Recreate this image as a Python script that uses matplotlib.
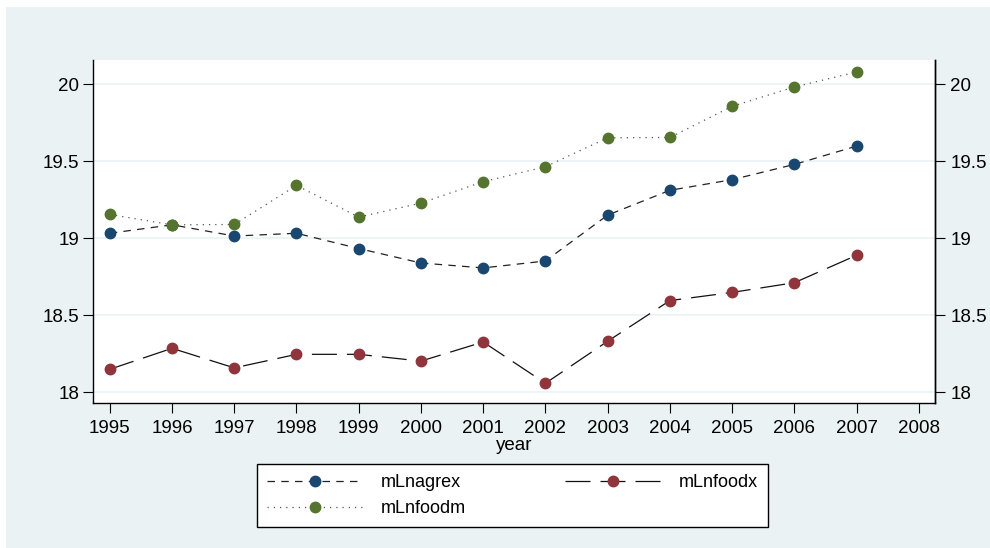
import matplotlib
matplotlib.use("Agg")
import matplotlib.pyplot as plt
import matplotlib.patches as mpatches

plt.rcParams['font.family'] = ['Liberation Sans', 'DejaVu Sans']

# data
years = [1995, 1996, 1997, 1998, 1999, 2000, 2001, 2002, 2003, 2004, 2005, 2006, 2007]
mLnagrex = [19.031, 19.086, 19.013, 19.031, 18.932, 18.838, 18.806, 18.851, 19.149,
            19.310, 19.379, 19.478, 19.597]
mLnfoodx = [18.148, 18.284, 18.157, 18.245, 18.245, 18.201, 18.325, 18.057, 18.330,
            18.594, 18.647, 18.710, 18.888]
mLnfoodm = [19.153, 19.086, 19.088, 19.342, 19.136, 19.227, 19.366, 19.463, 19.651,
            19.653, 19.855, 19.981, 20.078]
x_ticks = list(range(1995, 2009))
y_ticks = [18, 18.5, 19, 19.5, 20]
y_labels = ["18", "18.5", "19", "19.5", "20"]

bg = "#eaf2f3"
c_blue = "#1a476f"
c_red = "#90353b"
c_green = "#55752f"

fig = plt.figure(figsize=(9.9, 5.48), dpi=100)
fig.patch.set_facecolor("white")
fig.patches.append(mpatches.Rectangle((6 / 990, 0), 1, 1 - 7 / 548, transform=fig.transFigure,
                                      facecolor=bg, edgecolor="none", zorder=-10))

ax = fig.add_axes([93 / 990, 145 / 548, 842 / 990, 343 / 548])
ax.set_facecolor("white")

l1, = ax.plot(years, mLnagrex, color="#222222", lw=0.9, linestyle=(0, (6, 5)),
              marker="o", ms=7.5, mfc=c_blue, mec=c_blue, label="mLnagrex", zorder=3)
l2, = ax.plot(years, mLnfoodx, color="#111111", lw=0.9, linestyle=(0, (20, 8)),
              marker="o", ms=7.5, mfc=c_red, mec=c_red, label="mLnfoodx", zorder=3)
l3, = ax.plot(years, mLnfoodm, color="#555555", lw=0.9, linestyle=(0, (1, 4)),
              marker="o", ms=7.5, mfc=c_green, mec=c_green, label="mLnfoodm", zorder=3)

ax.set_xlim(1994.73, 2008.26)
ax.set_ylim(17.929, 20.156)
ax.set_xticks(x_ticks)
ax.set_yticks(y_ticks)
ax.set_yticklabels(y_labels)
ax.tick_params(axis="both", direction="out", length=7, width=0.8, labelsize=13.5, colors="black")
ax.tick_params(axis="y", pad=3)
ax.tick_params(axis="x", pad=5)
ax.grid(True, axis="y", color=bg, lw=1.2, zorder=0)
ax.set_xlabel("year", fontsize=13.5, labelpad=0)
ax.spines["top"].set_visible(False)
for s in ["left", "bottom", "right"]:
    ax.spines[s].set_linewidth(1.0)
    ax.spines[s].set_color("black")

ax2 = ax.twinx()
ax2.set_ylim(ax.get_ylim())
ax2.set_yticks(y_ticks)
ax2.set_yticklabels(y_labels)
ax2.tick_params(axis="y", direction="out", length=7, width=0.8, labelsize=13.5, pad=4)
for s in ["top", "left", "bottom"]:
    ax2.spines[s].set_visible(False)
ax2.spines["right"].set_linewidth(1.0)

# column-wise fill: agrex / foodm in col 1, foodx in col 2
leg = fig.legend([l1, l3, l2], ["mLnagrex", "mLnfoodm", "mLnfoodx"], loc="lower left", ncol=2,
                 bbox_to_anchor=(257 / 990, 21 / 548, 511 / 990, 62 / 548), mode="expand",
                 borderaxespad=0, fontsize=13, frameon=True, fancybox=False, edgecolor="black",
                 framealpha=1, handlelength=5.3, handletextpad=1.0, labelspacing=0.5,
                 borderpad=0.55)
leg.get_frame().set_linewidth(1.0)
leg.get_frame().set_facecolor("white")

fig.savefig("out.png", dpi=100, facecolor=fig.get_facecolor())
